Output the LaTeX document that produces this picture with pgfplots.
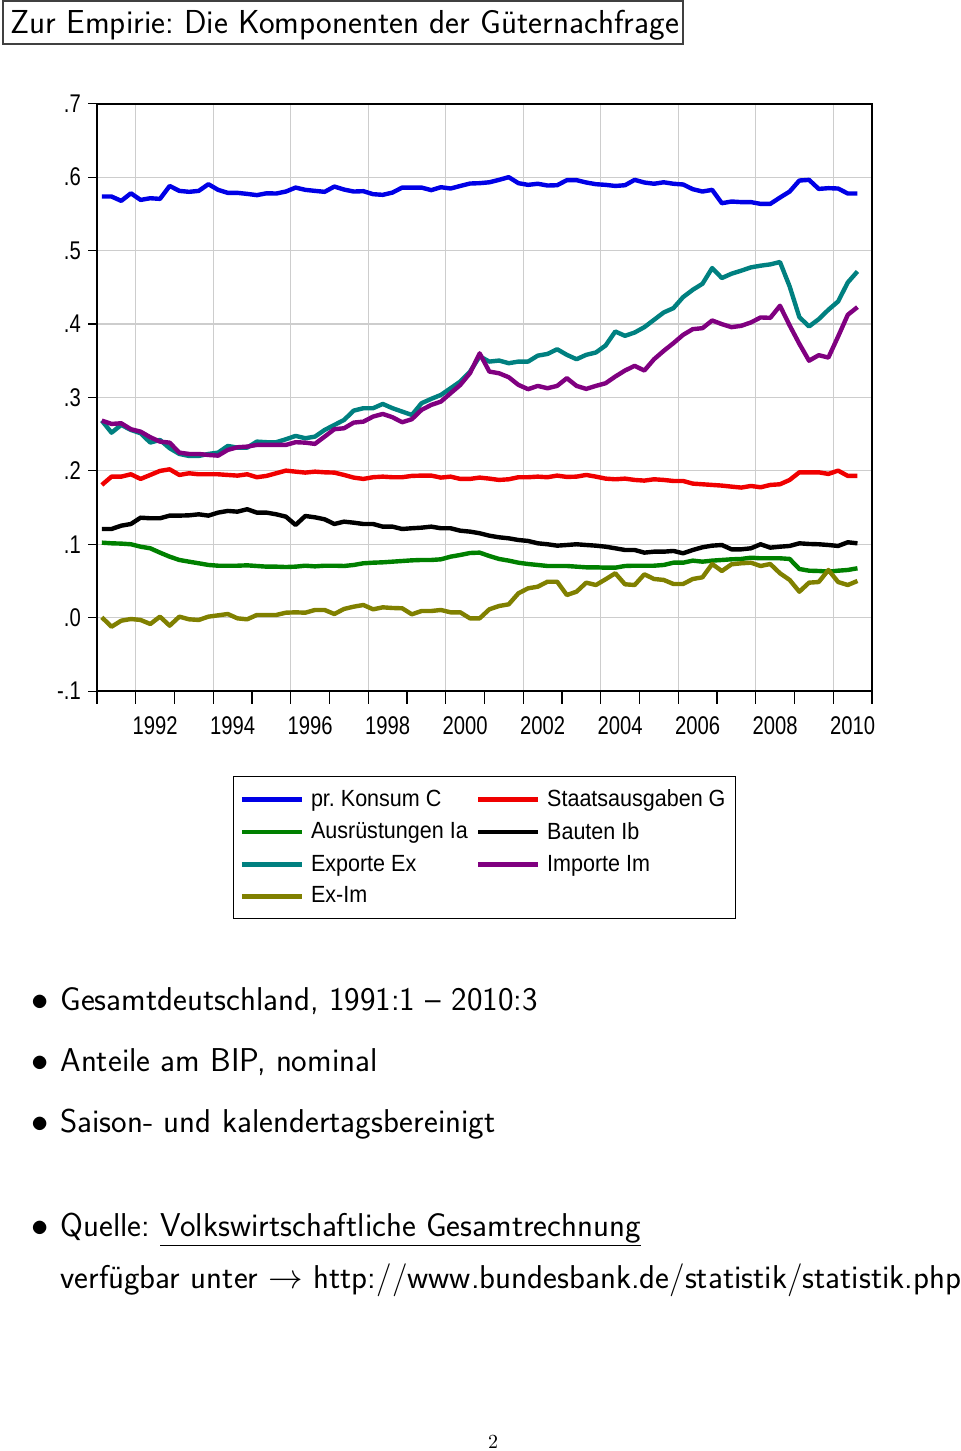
\documentclass[border=0pt]{standalone}
\usepackage{pgfplots}
\pgfplotsset{compat=1.18}
\usepackage{pgfplotstable}
\usepackage{fontspec}
\newfontfamily\tickfont[FakeStretch=0.79]{Liberation Sans}
\newfontfamily\legfont[FakeStretch=0.92]{Liberation Sans}
\definecolor{cC}{RGB}{0,0,230}
\definecolor{cG}{RGB}{240,0,0}
\definecolor{cIa}{RGB}{0,128,0}
\definecolor{cIb}{RGB}{0,0,0}
\definecolor{cEx}{RGB}{0,128,128}
\definecolor{cIm}{RGB}{128,0,128}
\definecolor{cNX}{RGB}{128,128,0}
\definecolor{gridgray}{RGB}{205,205,205}

\pgfplotstableread{
x C G Ia Ib Ex Im ExIm
1991.125 .5736 .1808 .1022 .1208 .2684 .2684 .0005
1991.375 .5736 .1921 .1013 .1208 .2520 .2639 -.0123
1991.625 .5677 .1921 .1009 .1253 .2625 .2648 -.0041
1991.875 .5780 .1953 .1000 .1276 .2557 .2567 -.0018
1992.125 .5690 .1890 .0967 .1362 .2512 .2534 -.0031
1992.375 .5713 .1944 .0945 .1354 .2385 .2458 -.0086
1992.625 .5704 .1999 .0886 .1354 .2421 .2398 .0014
1992.875 .5880 .2021 .0831 .1390 .2308 .2384 -.0109
1993.125 .5813 .1944 .0786 .1390 .2230 .2248 .0014
1993.375 .5800 .1967 .0763 .1394 .2203 .2230 -.0022
1993.625 .5813 .1953 .0741 .1408 .2203 .2230 -.0031
1993.875 .5904 .1953 .0718 .1390 .2230 .2216 .0014
1994.125 .5827 .1953 .0708 .1431 .2248 .2207 .0032
1994.375 .5786 .1944 .0708 .1454 .2339 .2285 .0050
1994.625 .5786 .1935 .0708 .1444 .2316 .2321 -.0009
1994.875 .5772 .1953 .0713 .1477 .2316 .2330 -.0022
1995.125 .5755 .1913 .0704 .1431 .2398 .2353 .0037
1995.375 .5780 .1931 .0695 .1431 .2390 .2353 .0037
1995.625 .5777 .1967 .0695 .1408 .2390 .2353 .0037
1995.875 .5804 .2003 .0690 .1376 .2430 .2353 .0068
1996.125 .5858 .1989 .0695 .1263 .2476 .2390 .0073
1996.375 .5827 .1976 .0708 .1385 .2444 .2384 .0068
1996.625 .5813 .1989 .0699 .1367 .2466 .2367 .0105
1996.875 .5800 .1980 .0708 .1340 .2557 .2466 .0105
1997.125 .5872 .1976 .0708 .1276 .2625 .2567 .0050
1997.375 .5831 .1944 .0704 .1308 .2693 .2580 .0119
1997.625 .5804 .1908 .0718 .1294 .2820 .2657 .0150
1997.875 .5809 .1890 .0741 .1276 .2853 .2670 .0173
1998.125 .5768 .1913 .0749 .1276 .2853 .2739 .0114
1998.375 .5759 .1921 .0754 .1240 .2911 .2775 .0141
1998.625 .5790 .1913 .0763 .1240 .2853 .2730 .0132
1998.875 .5858 .1913 .0772 .1208 .2807 .2662 .0128
1999.125 .5858 .1931 .0781 .1218 .2761 .2703 .0046
1999.375 .5858 .1935 .0786 .1226 .2921 .2830 .0091
1999.625 .5823 .1935 .0786 .1240 .2980 .2898 .0091
1999.875 .5863 .1908 .0795 .1218 .3034 .2943 .0105
2000.125 .5845 .1921 .0831 .1218 .3125 .3057 .0073
2000.375 .5880 .1890 .0854 .1185 .3216 .3170 .0073
2000.625 .5913 .1890 .0881 .1172 .3350 .3330 -.0009
2000.875 .5918 .1908 .0886 .1150 .3560 .3600 -.0009
2001.125 .5930 .1894 .0840 .1117 .3488 .3352 .0114
2001.375 .5963 .1876 .0800 .1095 .3502 .3329 .0159
2001.625 .6000 .1885 .0777 .1081 .3466 .3275 .0182
2001.875 .5918 .1913 .0749 .1058 .3488 .3171 .0332
2002.125 .5895 .1913 .0731 .1045 .3488 .3112 .0400
2002.375 .5910 .1921 .0718 .1013 .3569 .3157 .0422
2002.625 .5886 .1913 .0704 .1000 .3592 .3125 .0490
2002.875 .5890 .1935 .0704 .0981 .3656 .3157 .0490
2003.125 .5959 .1917 .0704 .0990 .3580 .3262 .0309
2003.375 .5959 .1921 .0695 .1000 .3520 .3157 .0354
2003.625 .5927 .1944 .0686 .0990 .3580 .3116 .0477
2003.875 .5904 .1921 .0686 .0981 .3612 .3157 .0445
2004.125 .5895 .1894 .0681 .0967 .3707 .3193 .0523
2004.375 .5880 .1885 .0681 .0945 .3898 .3284 .0605
2004.625 .5890 .1894 .0704 .0922 .3839 .3366 .0455
2004.875 .5963 .1876 .0708 .0922 .3884 .3430 .0445
2005.125 .5927 .1867 .0708 .0886 .3957 .3366 .0591
2005.375 .5910 .1885 .0708 .0899 .4057 .3520 .0527
2005.625 .5930 .1876 .0718 .0899 .4157 .3634 .0514
2005.875 .5910 .1862 .0749 .0909 .4216 .3739 .0459
2006.125 .5900 .1862 .0749 .0877 .4366 .3852 .0459
2006.375 .5836 .1826 .0777 .0922 .4466 .3930 .0527
2006.625 .5804 .1817 .0763 .0959 .4548 .3943 .0550
2006.875 .5827 .1808 .0777 .0981 .4762 .4048 .0731
2007.125 .5645 .1799 .0786 .0990 .4626 .3998 .0636
2007.375 .5668 .1785 .0795 .0931 .4685 .3957 .0727
2007.625 .5660 .1772 .0800 .0931 .4726 .3975 .0741
2007.875 .5660 .1794 .0817 .0945 .4771 .4021 .0749
2008.125 .5636 .1776 .0809 .1000 .4794 .4089 .0704
2008.375 .5636 .1808 .0809 .0954 .4812 .4084 .0731
2008.625 .5722 .1817 .0809 .0967 .4844 .4248 .0605
2008.875 .5804 .1876 .0800 .0977 .4511 .3980 .0514
2009.125 .5954 .1980 .0663 .1013 .4094 .3730 .0354
2009.375 .5963 .1980 .0640 .1004 .3966 .3500 .0477
2009.625 .5840 .1980 .0636 .1000 .4066 .3575 .0486
2009.875 .5850 .1958 .0627 .0990 .4194 .3543 .0650
2010.125 .5845 .2003 .0640 .0977 .4307 .3829 .0486
2010.375 .5777 .1931 .0650 .1027 .4566 .4125 .0445
2010.625 .5777 .1931 .0673 .1013 .4716 .4230 .0500
}\data

\begin{document}
\frenchspacing
\begin{tikzpicture}[x=1pt,y=1pt]
\useasboundingbox (0,0) rectangle (480,-725.5);
\draw[line width=1pt, draw=black!75] (1.5,-0.5) rectangle (341.5,-22);
\node[anchor=base west, inner sep=0, font=\sffamily\fontsize{16.6}{20}\selectfont] at (5,-16.5) {Zur Empirie: Die Komponenten der Güternachfrage};
\begin{axis}[
  at={(48.5pt,-345.55pt)}, anchor=south west,
  scale only axis, width=387.5pt, height=293.7pt,
  xmin=1991, xmax=2011, ymin=-0.1, ymax=0.7,
  axis line style={line width=0.8pt},
  tick align=outside, xtick pos=lower, ytick pos=left,
  xtick={1992,1994,...,2010},
  minor x tick num=7,
  /pgf/number format/assume math mode=true,
  /pgf/number format/1000 sep={},
  xticklabel style={font=\tickfont\fontsize{12.8}{13}\selectfont, xshift=9.675pt, yshift=-5pt},
  xtick style={/pgfplots/major tick length=6.3pt, /pgfplots/minor tick length=3.3pt, line width=0.6pt, black},
  extra x ticks={1991,1993,1995,1997,1999,2001,2003,2005,2007,2009,2011},
  extra x tick labels={},
  extra x tick style={grid=none},
  ytick={-0.1,0,0.1,0.2,0.3,0.4,0.5,0.6,0.7},
  yticklabels={-.1,.0,.1,.2,.3,.4,.5,.6,.7},
  yticklabel style={font=\tickfont\fontsize{12.8}{13}\selectfont, xshift=-0.3pt},
  ytick style={/pgfplots/major tick length=4.5pt, line width=0.6pt, black},
  xmajorgrids, ymajorgrids,
  major grid style={gridgray, line width=0.6pt},
  legend style={at={(axis description cs:0.1755,-0.1446)}, anchor=north west,
    legend columns=2, draw=black, line width=0.6pt,
    inner ysep=4.5pt, row sep=2.35pt,
    font=\legfont\fontsize{11.7}{13}\selectfont,
    /tikz/every even column/.append style={column sep=2pt}},
  legend cell align=left,
  legend image code/.code={\draw[#1] (0pt,0pt) -- (30pt,0pt); \path (31.5pt,0pt);},
  every axis plot/.append style={line width=2.2pt, line join=round},
]
\addplot[cC] table[x=x,y=C]{\data}; \addlegendentry{pr. Konsum C}
\addplot[cG] table[x=x,y=G]{\data}; \addlegendentry{Staatsausgaben G}
\addplot[cIa] table[x=x,y=Ia]{\data}; \addlegendentry{Ausrüstungen Ia}
\addplot[cIb] table[x=x,y=Ib]{\data}; \addlegendentry{Bauten Ib}
\addplot[cEx] table[x=x,y=Ex]{\data}; \addlegendentry{Exporte Ex}
\addplot[cIm] table[x=x,y=Im]{\data}; \addlegendentry{Importe Im}
\addplot[cNX] table[x=x,y=ExIm]{\data}; \addlegendentry{Ex-Im}
\end{axis}
\begin{scope}[every node/.style={anchor=base west, inner sep=0, font=\sffamily\fontsize{16.5}{20}\selectfont}]
\node at (30,-505) {Gesamtdeutschland, 1991:1 – 2010:3};
\node at (30,-535.5) {Anteile am BIP, nominal};
\node at (30,-566) {Saison- und kalendertagsbereinigt};
\node at (30,-618) {Quelle: \underline{Volkswirtschaftliche Gesamtrechnung}};
\node at (30,-644) {verfügbar unter $\rightarrow$ http://www.bundesbank.de/statistik/statistik.php};
\end{scope}
\begin{scope}[every node/.style={anchor=base, inner sep=0, font=\sffamily\fontsize{16.5}{20}\selectfont}]
\node at (20,-505) {$\bullet$};
\node at (20,-535.5) {$\bullet$};
\node at (20,-566) {$\bullet$};
\node at (20,-618) {$\bullet$};
\end{scope}
\node[anchor=base, inner sep=0, font=\rmfamily\fontsize{10}{12}\selectfont] at (246.5,-724) {2};
\end{tikzpicture}
\end{document}
